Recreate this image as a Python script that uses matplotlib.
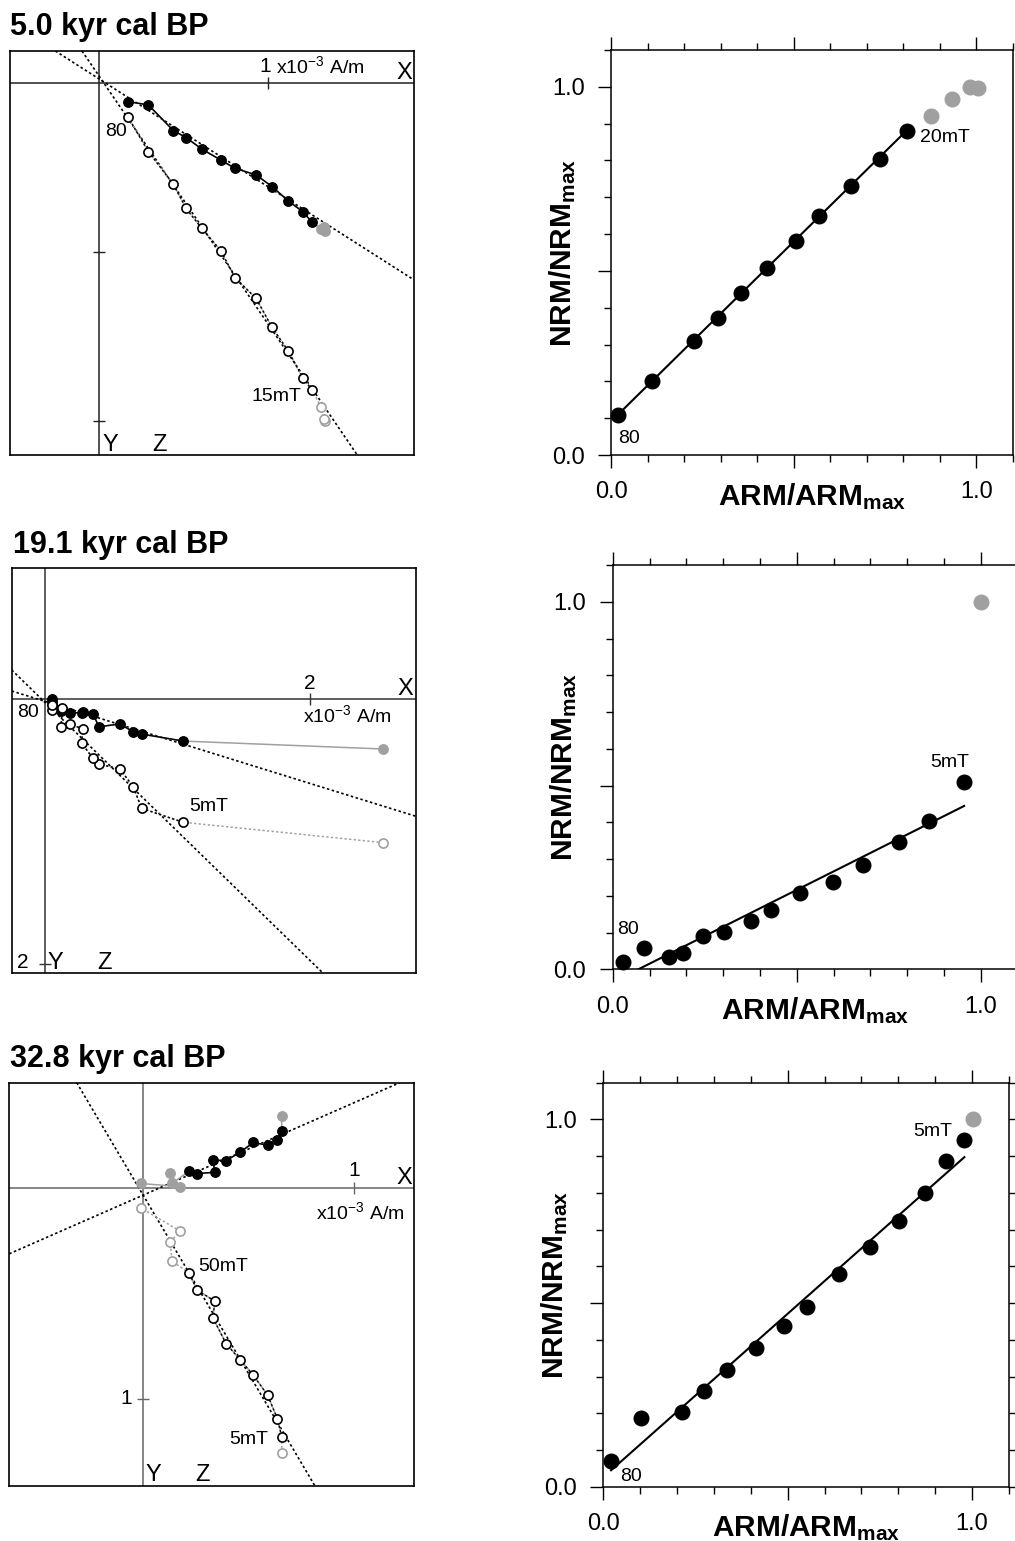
import matplotlib
matplotlib.use("Agg")
import matplotlib.pyplot as plt
import numpy as np
from matplotlib.ticker import MultipleLocator

plt.rcParams["font.family"] = ["Liberation Sans", "DejaVu Sans"]
plt.rcParams["mathtext.fontset"] = "custom"
plt.rcParams["mathtext.rm"] = "Liberation Sans"
plt.rcParams["mathtext.bf"] = "Liberation Sans:bold"
plt.rcParams["mathtext.default"] = "regular"

W, H = 1015, 1541
GRAY = "#a0a0a0"
AXIS_GRAY = "#444444"

titles = ["5.0 kyr cal BP", "19.1 kyr cal BP", "32.8 kyr cal BP"]

# --- Zijderveld data (x10^-3 A/m), steps ordered NRM -> 80 mT ---
# X = north component, Y = east (filled), Z = down (open)
z1_x = [1.337, 1.331, 1.312, 1.262, 1.205, 1.120, 1.024, 0.929, 0.805, 0.720, 0.608, 0.515, 0.440, 0.292, 0.170]
z1_y = [0.874, 0.854, 0.862, 0.825, 0.761, 0.698, 0.613, 0.544, 0.505, 0.456, 0.391, 0.323, 0.282, 0.130, 0.110]
z1_z = [1.998, 1.990, 1.915, 1.817, 1.744, 1.586, 1.446, 1.274, 1.152, 0.992, 0.860, 0.742, 0.600, 0.406, 0.199]
z1_used = [0, 0, 0] + [1] * 12
z1_fit_h = [0.638, -0.024]   # slope, intercept of PCA line, horizontal projection
z1_fit_v = [1.467, -0.041]

z2_x = [2.553, 1.042, 0.730, 0.666, 0.566, 0.408, 0.362, 0.278, 0.284, 0.189, 0.121, 0.131, 0.051, 0.051]
z2_y = [0.375, 0.315, 0.262, 0.245, 0.186, 0.207, 0.111, 0.100, 0.098, 0.106, 0.090, 0.075, 0.020, -0.002]
z2_z = [1.082, 0.928, 0.823, 0.660, 0.526, 0.488, 0.445, 0.332, 0.224, 0.186, 0.211, 0.063, 0.081, 0.043]
z2_used = [0] + [1] * 13
z2_fit_h = [0.310, 0.015]
z2_fit_v = [0.974, 0.023]

z3_x = [0.658, 0.658, 0.638, 0.592, 0.524, 0.461, 0.395, 0.333, 0.341, 0.257, 0.218, 0.139, 0.129, 0.176, -0.010]
z3_y = [-0.339, -0.268, -0.226, -0.201, -0.214, -0.168, -0.128, -0.131, -0.073, -0.067, -0.078, -0.020, -0.068, -0.005, -0.020]
z3_z = [1.255, 1.179, 1.095, 0.983, 0.888, 0.814, 0.738, 0.618, 0.537, 0.484, 0.402, 0.349, 0.258, 0.205, 0.095]
z3_used = [0] + [1] * 10 + [0] * 4
z3_fit_h = [-0.438, 0.036]
z3_fit_v = [1.692, 0.032]

# --- NRM/ARM data, ordered 80 mT -> NRM ---
nrm1_arm = [0.020, 0.113, 0.227, 0.292, 0.355, 0.428, 0.507, 0.569, 0.657, 0.735, 0.809, 0.875, 0.932, 0.982, 1.003]
nrm1_nrm = [0.110, 0.201, 0.310, 0.371, 0.439, 0.509, 0.582, 0.649, 0.731, 0.805, 0.881, 0.921, 0.967, 1.000, 0.997]
nrm1_used = [1] * 11 + [0] * 4
nrm1_fit = [0.977, 0.091]
nrm1_fit_x = [0.020, 0.809]

nrm2_arm = [0.027, 0.086, 0.153, 0.192, 0.246, 0.303, 0.376, 0.429, 0.509, 0.598, 0.679, 0.778, 0.860, 0.955, 1.000]
nrm2_nrm = [0.021, 0.059, 0.033, 0.045, 0.091, 0.101, 0.132, 0.160, 0.207, 0.237, 0.284, 0.345, 0.403, 0.510, 1.000]
nrm2_used = [1] * 14 + [0]
nrm2_fit = [0.502, -0.035]
nrm2_fit_x = [0.070, 0.955]

nrm3_arm = [0.021, 0.102, 0.214, 0.274, 0.335, 0.414, 0.490, 0.552, 0.638, 0.724, 0.803, 0.871, 0.928, 0.979, 1.002]
nrm3_nrm = [0.070, 0.186, 0.204, 0.260, 0.319, 0.379, 0.438, 0.490, 0.580, 0.653, 0.723, 0.801, 0.886, 0.943, 1.000]
nrm3_used = [1] * 14 + [0]
nrm3_fit = [0.890, 0.026]
nrm3_fit_x = [0.021, 0.979]

fig = plt.figure(figsize=(W / 100, H / 100), dpi=100)


def px_axes(l, t, r, b):
    return fig.add_axes([l / W, 1 - b / H, (r - l) / W, (b - t) / H])


def zijderveld(ax, x, y, z, used, fit_h, fit_v, xlim, ylim, xt, yt, cross=AXIS_GRAY):
    x, y, z = np.asarray(x), np.asarray(y), np.asarray(z)
    used = np.asarray(used, dtype=bool)
    ax.set_xlim(*xlim)
    ax.set_ylim(ylim[1], ylim[0])  # down is positive
    ax.set_xticks([])
    ax.set_yticks([])
    for s in ax.spines.values():
        s.set_linewidth(1.2)
    ax.axhline(0, color=cross, lw=1.1, zorder=1)
    ax.axvline(0, color=cross, lw=1.1, zorder=1)
    ax.plot(xt, np.zeros(len(xt)), ls="none", marker="|", ms=9, mew=1, color=cross)
    ax.plot(np.zeros(len(yt)), yt, ls="none", marker="_", ms=9, mew=1, color=cross)
    dot = (0, (1.5, 1.5))
    ax.axline((0, fit_h[1]), slope=fit_h[0], color="k", lw=1.2, ls=dot, zorder=2)
    ax.axline((0, fit_v[1]), slope=fit_v[0], color="k", lw=1.2, ls=dot, zorder=2)
    ax.plot(x, y, color=GRAY, lw=1.1, zorder=3)
    ax.plot(x, z, color=GRAY, lw=1.1, ls=dot, zorder=3)
    ax.plot(x, np.where(used, y, np.nan), color="k", lw=1.1, zorder=4)
    ax.plot(x, np.where(used, z, np.nan), color="k", lw=1.1, ls=dot, zorder=4)
    ax.plot(x[used], y[used], "o", ms=6.8, color="k", zorder=5)
    ax.plot(x[~used], y[~used], "o", ms=6.8, color=GRAY, zorder=5)
    ax.plot(x[used], z[used], "o", ms=6.6, mfc="white", mec="k", mew=1.2, zorder=5)
    ax.plot(x[~used], z[~used], "o", ms=6.6, mfc="white", mec=GRAY, mew=1.2, zorder=5)


def nrm_arm(ax, arm, nrm, used, fit, fit_x, right_ticks=True):
    arm, nrm = np.asarray(arm), np.asarray(nrm)
    used = np.asarray(used, dtype=bool)
    ax.set_xlim(0, 1.1)
    ax.set_ylim(0, 1.1)
    fx = np.asarray(fit_x)
    ax.plot(fx, np.polyval(fit, fx), color="k", lw=1.5, zorder=2)
    ax.plot(arm[used], nrm[used], "o", ms=10.5, color="k", zorder=3, clip_on=False)
    ax.plot(arm[~used], nrm[~used], "o", ms=10.5, color=GRAY, zorder=3, clip_on=False)
    for s in ax.spines.values():
        s.set_linewidth(1.1)
    ax.set_xticks([0, 0.5, 1.0])
    ax.set_xticklabels(["0.0", "", "1.0"])
    ax.set_yticks([0, 0.5, 1.0])
    ax.set_yticklabels(["0.0", "", "1.0"])
    ax.xaxis.set_minor_locator(MultipleLocator(0.1))
    ax.yaxis.set_minor_locator(MultipleLocator(0.1))
    ax.tick_params(which="both", direction="out", top=True, right=right_ticks, width=1.0)
    ax.tick_params(which="major", length=9.5, labelsize=17, pad=9.5)
    ax.tick_params(which="minor", length=4.8)
    ax.set_xlabel(r"ARM/ARM$_{\mathbf{max}}$", fontsize=21.5, fontweight="bold")
    ax.set_ylabel(r"NRM/NRM$_{\mathbf{max}}$", fontsize=21.5, fontweight="bold")
    ax.xaxis.set_label_coords(0.5, -0.064)
    ax.yaxis.set_label_coords(-0.083, 0.5)


lab = dict(fontsize=14, ha="center", va="center")
axl = dict(fontsize=17, ha="center", va="center")
num = dict(fontsize=15, ha="center", va="center")
unit = r"x10$^{-3}$ A/m"
TSIZE = 22

# ---- row 1 ----
fig.text(10 / W, 1 - 35 / H, titles[0], fontsize=TSIZE, fontweight="bold", va="baseline")
a = px_axes(10, 51, 414, 455)
zijderveld(a, z1_x, z1_y, z1_z, z1_used, z1_fit_h, z1_fit_v,
           (-0.527, 1.864), (-0.189, 2.201), [1], [1, 2], cross="#222222")
a.text(0.101, 0.288, "80", **lab)
a.text(1.051, 1.856, "15mT", **lab)
a.text(0.065, 2.142, "Y", **axl)
a.text(0.355, 2.142, "Z", **axl)
a.text(1.805, -0.057, "X", **axl)
a.text(0.986, -0.096, "1", **num)
a.text(1.047, -0.057, unit, fontsize=14, ha="left", va="baseline")

b = px_axes(611, 50, 1013, 455)
nrm_arm(b, nrm1_arm, nrm1_nrm, nrm1_used, nrm1_fit, nrm1_fit_x, right_ticks=False)
b.text(0.050, 0.046, "80", **lab)
b.text(0.914, 0.862, "20mT", **lab)

# ---- row 2 ----
fig.text(13.3 / W, 1 - 553.3 / H, titles[1], fontsize=TSIZE, fontweight="bold", va="baseline")
a = px_axes(11.7, 568.3, 416, 973.3)
zijderveld(a, z2_x, z2_y, z2_z, z2_used, z2_fit_h, z2_fit_v,
           (-0.251, 2.800), (-0.989, 2.068), [2], [2], cross="#333333")
a.text(-0.126, 0.101, "80", **lab)
a.text(1.238, 0.811, "5mT", **lab)
a.text(2.721, -0.078, "X", **axl)
a.text(1.995, -0.123, "2", **num)
a.text(1.945, 0.174, unit, fontsize=14, ha="left", va="baseline")
a.text(-0.171, 1.990, "2", **num)
a.text(0.075, 1.990, "Y", **axl)
a.text(0.448, 1.990, "Z", **axl)

b = px_axes(612.7, 565, 1017.5, 969.3)
nrm_arm(b, nrm2_arm, nrm2_nrm, nrm2_used, nrm2_fit, nrm2_fit_x, right_ticks=False)
b.text(0.041, 0.109, "80", **lab)
b.text(0.915, 0.563, "5mT", **lab)

# ---- row 3 ----
fig.text(10 / W, 1 - 1067.3 / H, titles[2], fontsize=TSIZE, fontweight="bold", va="baseline")
a = px_axes(9.3, 1082.7, 414.3, 1486)
zijderveld(a, z3_x, z3_y, z3_z, z3_used, z3_fit_h, z3_fit_v,
           (-0.632, 1.286), (-0.497, 1.412), [1], [1], cross="#666666")
a.text(0.383, 0.374, "50mT", **lab)
a.text(0.503, 1.191, "5mT", **lab)
a.text(1.002, -0.081, "1", **num)
a.text(1.238, -0.047, "X", **axl)
a.text(0.821, 0.150, unit, fontsize=14, ha="left", va="baseline")
a.text(-0.078, 0.997, "1", **num)
a.text(0.052, 1.362, "Y", **axl)
a.text(0.284, 1.362, "Z", **axl)

b = px_axes(603.3, 1082.7, 1009, 1486.7)
nrm_arm(b, nrm3_arm, nrm3_nrm, nrm3_used, nrm3_fit, nrm3_fit_x)
b.text(0.075, 0.028, "80", **lab)
b.text(0.892, 0.968, "5mT", **lab)

fig.savefig("out.png", dpi=100)
